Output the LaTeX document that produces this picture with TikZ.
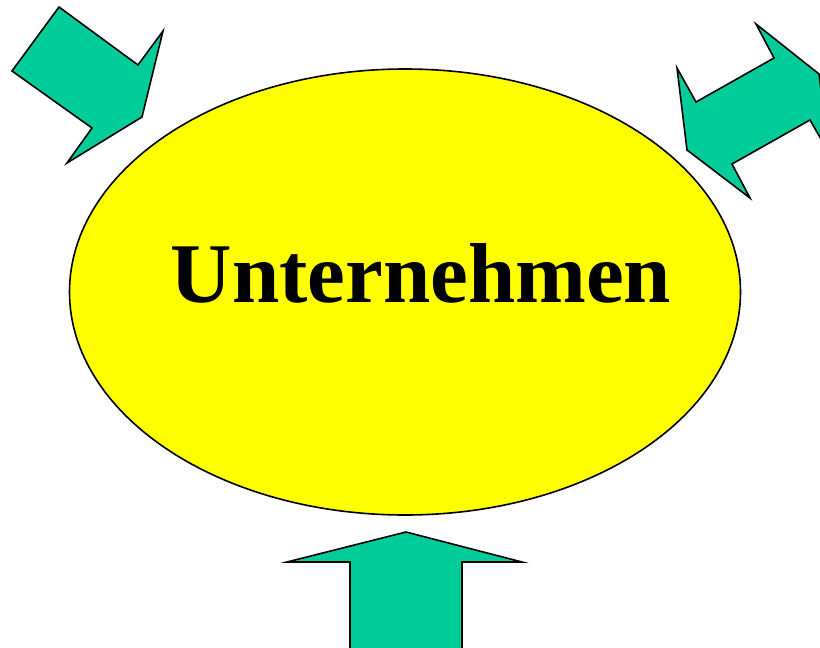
\documentclass[tikz,border=0pt]{standalone}
\usepackage{fontspec}
\usetikzlibrary{shapes.geometric}
\setmainfont{Liberation Serif}
\definecolor{arrowgreen}{HTML}{00CC99}
\definecolor{firmyellow}{HTML}{FFFF00}
\begin{document}
\begin{tikzpicture}[x=1pt,y=-1pt,
  blockarrow/.style={fill=arrowgreen,draw=black,line width=1.6pt,line join=miter},
  company/.style={ellipse,fill=firmyellow,draw=black,line width=1.6pt,inner sep=0pt,minimum width=671pt,minimum height=446pt}]
\useasboundingbox (0,0) rectangle (820,648);
\clip (0,0) rectangle (820,648);
% ellipse
\node[company] (firm) at (405,292) {};
\node[anchor=base,inner sep=0pt,font=\fontsize{85}{85}\selectfont\bfseries] (label) at (421,302) {Unternehmen};
% top-left arrow
\path[blockarrow] (59,7) -- (138,65) -- (163,31) -- (142,117) -- (67,163) -- (92,128) -- (12,71) -- cycle;
% top-right double arrow
\path[blockarrow] (756,24) -- (819,74) -- (829,153) -- (810,120) -- (732,164) -- (750,198) -- (687,150) -- (677,68) -- (696,102) -- (774,58) -- cycle;
% bottom arrow
\path[blockarrow] (406,532) -- (522,562) -- (462,562) -- (462,650) -- (350,650) -- (350,562) -- (287,562) -- cycle;
\end{tikzpicture}
\end{document}
